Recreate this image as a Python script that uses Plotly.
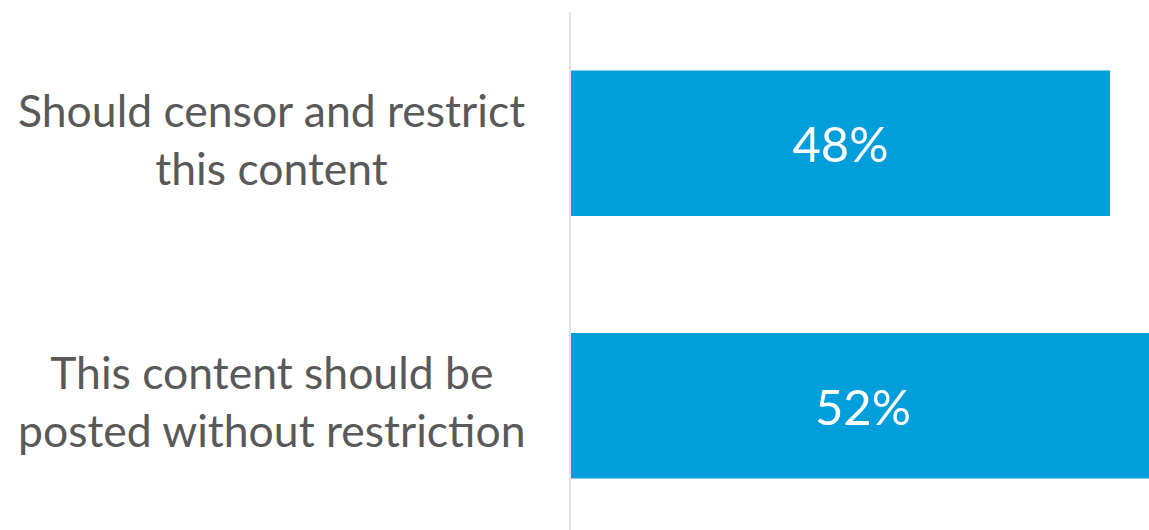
import plotly.graph_objects as go

categories = ["Should censor and restrict<br>this content",
              "This content should be<br>posted without restriction"]
values = [48, 52]
value_labels = ["48%", "52%"]

BAR_COLOR = "#009EDB"
TEXT_GRAY = "#595959"
FONT = "Lato"

W, H = 1149, 530
L, T = 571, 12
plot_w = W - L

fig = go.Figure()
fig.add_trace(go.Bar(
    y=categories,
    x=values,
    orientation="h",
    marker=dict(color=BAR_COLOR, line=dict(width=0)),
    text=value_labels,
    textposition="inside",
    insidetextanchor="middle",
    textfont=dict(family=FONT, size=49, color="white"),
    hoverinfo="skip",
))

label_center_px = 271.5
for cat in categories:
    fig.add_annotation(
        x=(label_center_px - L) / plot_w, xref="paper", y=cat, yref="y",
        text=cat, showarrow=False, xanchor="center", yanchor="middle",
        yshift=5,
        align="center", font=dict(family=FONT, size=44.5, color=TEXT_GRAY),
    )

fig.update_layout(
    width=W, height=H,
    margin=dict(l=L, r=0, t=T, b=0, pad=0),
    paper_bgcolor="white", plot_bgcolor="white",
    bargap=0.445,
    showlegend=False,
)
fig.update_xaxes(range=[0, 51.47], visible=False, fixedrange=True)
fig.update_yaxes(range=[1.4733, -0.5], showticklabels=False, showgrid=False,
                 zeroline=False, showline=True, linecolor="#E3E3E3", linewidth=2,
                 ticks="", fixedrange=True)

fig.write_html(
    "out.html",
    config={"displayModeBar": False},
    post_script="document.body.style.margin='0';document.body.style.overflow='hidden';",
)
